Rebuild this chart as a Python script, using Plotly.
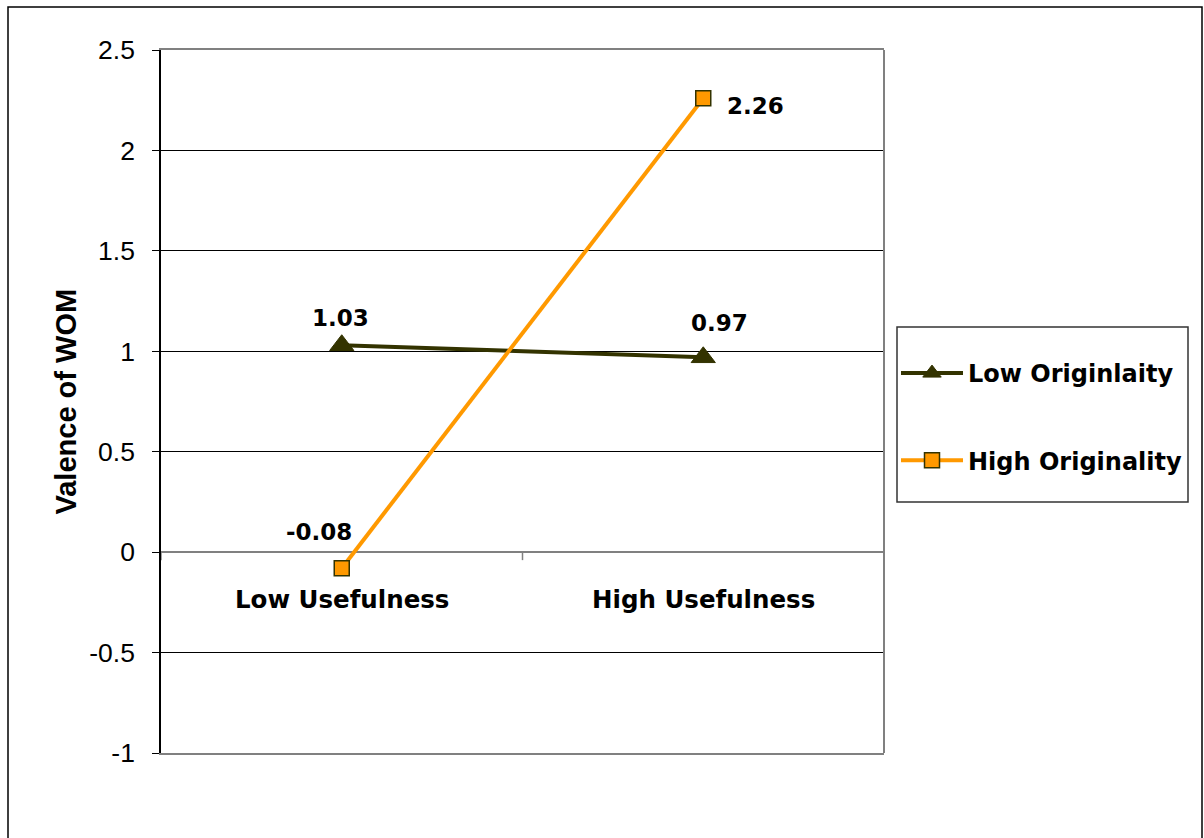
import plotly.graph_objects as go

# Data
categories = ["Low Usefulness", "High Usefulness"]
low_originality = [1.03, 0.97]
high_originality = [-0.08, 2.26]
series_names = ["Low Originlaity", "High Originality"]

y_ticks = [-1, -0.5, 0, 0.5, 1, 1.5, 2, 2.5]
y_tick_text = ["-1", "-0.5", "0", "0.5", "1", "1.5", "2", "2.5"]

W, H = 1204, 838
L, R, T, B = 161, 884, 50, 753
PW, PH = R - L, B - T

OLIVE = "#333300"
ORANGE = "#FF9900"
GRAY = "#808080"
BOLD_FONT = "DejaVu Sans"


def px_x(x):
    return (x - L) / PW


def px_y(y):
    return (B - y) / PH


x_idx = list(range(len(categories)))

fig = go.Figure()
fig.add_trace(go.Scatter(
    x=x_idx, y=low_originality, mode="lines+markers", name=series_names[0],
    line=dict(color=OLIVE, width=4),
    marker=dict(symbol="triangle-up", size=21, color=OLIVE,
                line=dict(color=OLIVE, width=1)),
    legendgroup="a",
))
fig.add_trace(go.Scatter(
    x=x_idx, y=high_originality, mode="lines+markers", name=series_names[1],
    line=dict(color=ORANGE, width=4),
    marker=dict(symbol="square", size=15, color=ORANGE,
                line=dict(color=OLIVE, width=1.5)),
    legendgroup="b",
))

# Value labels
label_offsets = {
    (0, 0): (-1, 27), (0, 1): (16, 34),
    (1, 0): (-23, 36), (1, 1): (52, -8),
}
for s, vals in enumerate([low_originality, high_originality]):
    for i, v in enumerate(vals):
        dx, dy = label_offsets[(s, i)]
        fig.add_annotation(
            x=i, y=v, xref="x", yref="y", text=f"{v:.2f}", showarrow=False,
            xshift=dx, yshift=dy,
            font=dict(family=BOLD_FONT, size=23, color="black", weight="bold"),
        )

# Category labels below the zero line
for i, c in enumerate(categories):
    fig.add_annotation(
        x=i, y=0, xref="x", yref="y", text=c, showarrow=False,
        yanchor="middle", yshift=-47,
        font=dict(family=BOLD_FONT, size=24.5, color="black", weight="bold"),
    )

# Tick marks on the category axis
for xv in [-0.5, 0.5, 1.5]:
    fig.add_shape(type="line", xref="x", yref="y", ysizemode="pixel",
                  yanchor=0, x0=xv, x1=xv, y0=0, y1=-8,
                  line=dict(color=GRAY, width=1.5))

# Right border of plot area
fig.add_shape(type="line", xref="paper", yref="paper", x0=1, x1=1, y0=0, y1=1,
              line=dict(color=GRAY, width=2))

# Outer frame
fig.add_shape(type="rect", xref="paper", yref="paper",
              x0=px_x(8), x1=px_x(1202), y0=px_y(860), y1=px_y(7),
              line=dict(color="black", width=1.5), fillcolor="rgba(0,0,0,0)")

# Legend frame
fig.add_shape(type="rect", xref="paper", yref="paper",
              x0=px_x(897), x1=px_x(1188), y0=px_y(502), y1=px_y(327),
              line=dict(color="#333333", width=1.5), fillcolor="white",
              layer="below")

# Y-axis title
fig.add_annotation(
    x=px_x(47), y=0.5, xref="paper", yref="paper",
    text="Valence of WOM", textangle=-90, showarrow=False,
    font=dict(family="Liberation Sans", size=29, color="black", weight="bold"),
)

fig.update_layout(
    width=W, height=H,
    margin=dict(l=L, r=W - R, t=T, b=H - B, autoexpand=False),
    paper_bgcolor="white", plot_bgcolor="white",
    showlegend=True,
    legend=dict(
        x=px_x(896), y=px_y(351),
        xanchor="left", yanchor="top",
        borderwidth=0, bgcolor="rgba(0,0,0,0)",
        font=dict(family=BOLD_FONT, size=24, color="black", weight="bold"),
        tracegroupgap=53, itemwidth=62,
    ),
    xaxis=dict(
        range=[-0.5, 1.5], showticklabels=False, showgrid=False, zeroline=False,
        showline=True, linecolor=GRAY, linewidth=2, mirror=True, ticks="",
    ),
    yaxis=dict(
        range=[-1, 2.5], tickvals=y_ticks, ticktext=y_tick_text,
        showgrid=True, gridcolor="black", gridwidth=1,
        zeroline=True, zerolinecolor=GRAY, zerolinewidth=2,
        showline=True, linecolor="black", linewidth=1.5,
        ticks="outside", ticklen=7, tickcolor="black",
        tickfont=dict(family="Liberation Sans", size=26.5, color="black"),
        ticklabelstandoff=12,
    ),
)

fig.write_html("out.html")
